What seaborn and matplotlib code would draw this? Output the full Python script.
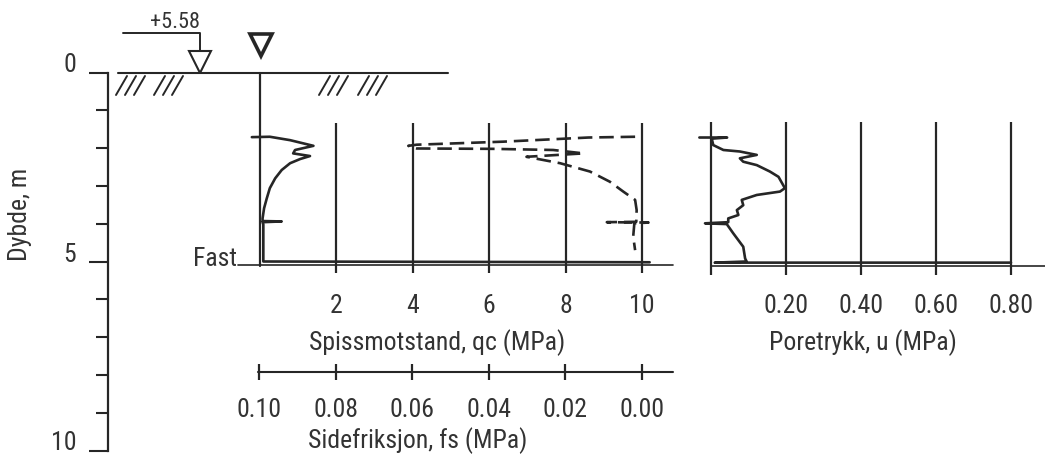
import matplotlib
matplotlib.use("Agg")
import matplotlib.pyplot as plt
import matplotlib.font_manager as fm
import pandas as pd
import seaborn as sns

# ---------------- data ----------------
depth_ticks = [0, 5, 10]
depth_tick_labels = ["0", "5", "10"]
depth_minor = [1, 2, 3, 4, 6, 7, 8, 9]

qc_ticks = [2, 4, 6, 8, 10]
qc_tick_labels = ["2", "4", "6", "8", "10"]
fs_ticks = [0.10, 0.08, 0.06, 0.04, 0.02, 0.00]
fs_tick_labels = ["0.10", "0.08", "0.06", "0.04", "0.02", "0.00"]
u_ticks = [0.2, 0.4, 0.6, 0.8]
u_tick_labels = ["0.20", "0.40", "0.60", "0.80"]

# cone resistance qc (MPa) vs depth (m)
qc_depth = [1.71, 1.70, 1.79, 1.94, 2.05, 2.14, 2.21, 2.29, 2.40, 2.58, 2.80,
            3.06, 3.33, 3.59, 3.86, 3.93, 3.94, 3.96, 4.02, 4.60, 5.00, 5.02]
qc_value = [-0.20, 0.27, 0.80, 1.41, 0.93, 0.88, 1.32, 1.06, 0.80, 0.58, 0.41,
            0.27, 0.19, 0.12, 0.08, 0.08, 0.58, 0.08, 0.10, 0.10, 0.10, 10.20]

# sleeve friction fs (MPa) vs depth (m)
fs_depth = [1.70, 1.72, 1.83, 1.91, 1.94, 2.01, 2.02, 2.05, 2.14, 2.23, 2.40,
            2.62, 2.89, 3.15, 3.37, 3.64, 3.95, 3.96, 3.97, 3.99, 4.34, 4.70]
fs_value = [0.0018, 0.0140, 0.0363, 0.0589, 0.0611, 0.0589, 0.0389, 0.0232,
            0.0153, 0.0302, 0.0214, 0.0136, 0.0084, 0.0049, 0.0018, 0.0014,
            0.0015, 0.0092, -0.0017, 0.0020, 0.0023, 0.0018]

# pore pressure u (MPa) vs depth (m)
u_depth = [1.72, 1.72, 1.75, 1.92, 2.05, 2.09, 2.18, 2.27, 2.36, 2.45, 2.62,
           2.76, 3.06, 3.15, 3.24, 3.37, 3.51, 3.64, 3.77, 3.86, 3.96, 3.99,
           4.01, 4.25, 4.61, 4.92, 5.00, 5.03, 5.03]
u_value = [-0.031, 0.043, 0.002, 0.006, 0.033, 0.077, 0.122, 0.077, 0.086,
           0.122, 0.157, 0.180, 0.197, 0.184, 0.122, 0.082, 0.086, 0.069,
           0.073, 0.046, 0.046, -0.016, 0.042, 0.059, 0.086, 0.091, 0.095,
           0.010, 0.800]

hard_layer_depth = 5.08
elevation_label = "+5.58"

# ---------------- style ----------------
sns.set_theme(style="white")
avail = {f.name for f in fm.fontManager.ttflist}
fam = next((f for f in ["Liberation Sans Narrow", "Roboto Condensed", "Open Sans Condensed",
                        "DejaVu Sans Condensed", "Liberation Sans", "DejaVu Sans"] if f in avail), "DejaVu Sans")
plt.rcParams["font.family"] = [fam, "DejaVu Sans"]
TXT = "#333333"
LN = "#262626"
FS = 18.5

W, H = 1045, 466
fig = plt.figure(figsize=(W / 100, H / 100), dpi=100)

# depth scale: pixel row -> depth
D0, DPX = 72.5, 37.8
def d_of(py):
    return (py - D0) / DPX
YLIM = (d_of(H), d_of(0))

# qc scale (pixel col -> qc)
Q0, QPX = 259.5, 38.25
def q_of(px):
    return (px - Q0) / QPX
U0, UPX = 711.0, 375.0
def u_of(px):
    return (px - U0) / UPX

# ---------- depth axis ----------
ax_d = fig.add_axes([108 / W, 0, 1 / W, 1])
ax_d.set_ylim(*YLIM)
ax_d.set_xlim(0, 1)
ax_d.patch.set_visible(False)
for s in ["top", "right", "bottom"]:
    ax_d.spines[s].set_visible(False)
ax_d.spines["left"].set_bounds(0, 10)
ax_d.spines["left"].set_linewidth(1.6)
ax_d.spines["left"].set_color(LN)
ax_d.set_xticks([])
ax_d.set_yticks(depth_ticks)
ax_d.set_yticklabels(depth_tick_labels, va="baseline")
ax_d.set_yticks(depth_minor, minor=True)
ax_d.tick_params(axis="y", which="major", length=14, width=1.5, color=LN,
                 direction="out", pad=9, labelsize=FS, labelcolor=TXT, left=True)
ax_d.tick_params(axis="y", which="minor", length=9, width=1.5, color=LN,
                 direction="out", left=True)

# ---------- qc / fs panel ----------
ax_q = fig.add_axes([0, 0, 690 / W, 1])
ax_q.set_xlim(q_of(0), q_of(690))
ax_q.set_ylim(*YLIM)
ax_q.axis("off")
ax_q.patch.set_visible(False)

ax_f = ax_q.twiny()
ax_f.set_xlim((10 - q_of(0)) / 100, (10 - q_of(690)) / 100)
ax_f.set_ylim(*YLIM)
ax_f.axis("off")

# ground line and hatching
ax_q.plot([q_of(118), q_of(448)], [0, 0], color=LN, lw=1.5)
for b in [116, 125, 134, 154, 163, 172, 319, 328, 337, 358, 367, 376]:
    ax_q.plot([q_of(b), q_of(b + 11)], [d_of(95), d_of(76)], color=LN, lw=1.4)

# water level symbols
ax_q.plot([q_of(123), q_of(200), q_of(200)], [d_of(33), d_of(33), d_of(51)], color=LN, lw=1.4)
ax_q.plot([q_of(200)], [d_of(62)], marker="v", ms=16, mfc="white", mec=LN, mew=1.5)
ax_q.text(q_of(175), d_of(28), elevation_label, ha="center", va="baseline",
          fontsize=16, color=TXT)
ax_q.plot([q_of(261)], [d_of(45)], marker="v", ms=16, mfc="white", mec=LN, mew=2.6)

# depth label
ax_q.text(q_of(20), d_of(214), "Dybde, m", rotation=90, ha="center", va="center",
          fontsize=FS, color=TXT)

# panel frame lines
ax_q.plot([0, 0], [0, d_of(266)], color=LN, lw=1.6)
ax_q.vlines(qc_ticks, d_of(123), d_of(273), color=LN, lw=1.6)
ax_q.plot([q_of(238), q_of(673)], [hard_layer_depth, hard_layer_depth], color=LN, lw=1.2)
ax_q.text(q_of(237), d_of(266), "Fast", ha="right", va="baseline", fontsize=FS, color=TXT)

# curves
sns.lineplot(x=qc_value, y=qc_depth, sort=False, estimator=None, ax=ax_q,
             color=LN, lw=1.9)
sns.lineplot(x=fs_value, y=fs_depth, sort=False, estimator=None, ax=ax_f,
             color=LN, lw=1.9, linestyle=(0, (5.5, 2.6)))

# qc tick labels and title
for v, t in zip(qc_ticks, qc_tick_labels):
    ax_q.text(v, d_of(313), t, ha="center", va="baseline", fontsize=FS, color=TXT)
ax_q.text(q_of(437.5), d_of(350), "Spissmotstand, qc (MPa)", ha="center",
          va="baseline", fontsize=FS, color=TXT)

# fs axis
ax_f.plot([(10 - q_of(258)) / 100, (10 - q_of(673)) / 100], [d_of(371.7)] * 2, color=LN, lw=1.5)
ax_f.vlines(fs_ticks, d_of(364), d_of(380), color=LN, lw=1.6)
for v, t in zip(fs_ticks, fs_tick_labels):
    ax_f.text(v, d_of(416.7), t, ha="center", va="baseline", fontsize=FS, color=TXT)
ax_f.text((10 - q_of(417.5)) / 100, d_of(448), "Sidefriksjon, fs (MPa)", ha="center",
          va="baseline", fontsize=FS, color=TXT)

# ---------- u panel ----------
ax_u = fig.add_axes([690 / W, 0, 355 / W, 1])
ax_u.set_xlim(u_of(690), u_of(1045))
ax_u.set_ylim(*YLIM)
ax_u.axis("off")
ax_u.patch.set_visible(False)

ax_u.vlines([0] + u_ticks, d_of(122), d_of(275), color=LN, lw=1.6)
ax_u.plot([0, u_of(1045)], [5.12, 5.12], color=LN, lw=1.2)
sns.lineplot(x=u_value, y=u_depth, sort=False, estimator=None, ax=ax_u,
             color=LN, lw=1.9)
for v, t in zip(u_ticks, u_tick_labels):
    ax_u.text(v, d_of(313), t, ha="center", va="baseline", fontsize=FS, color=TXT)
ax_u.text(u_of(862.5), d_of(350), "Poretrykk, u (MPa)", ha="center", va="baseline",
          fontsize=FS, color=TXT)

fig.savefig("out.png", dpi=100, facecolor="white")
